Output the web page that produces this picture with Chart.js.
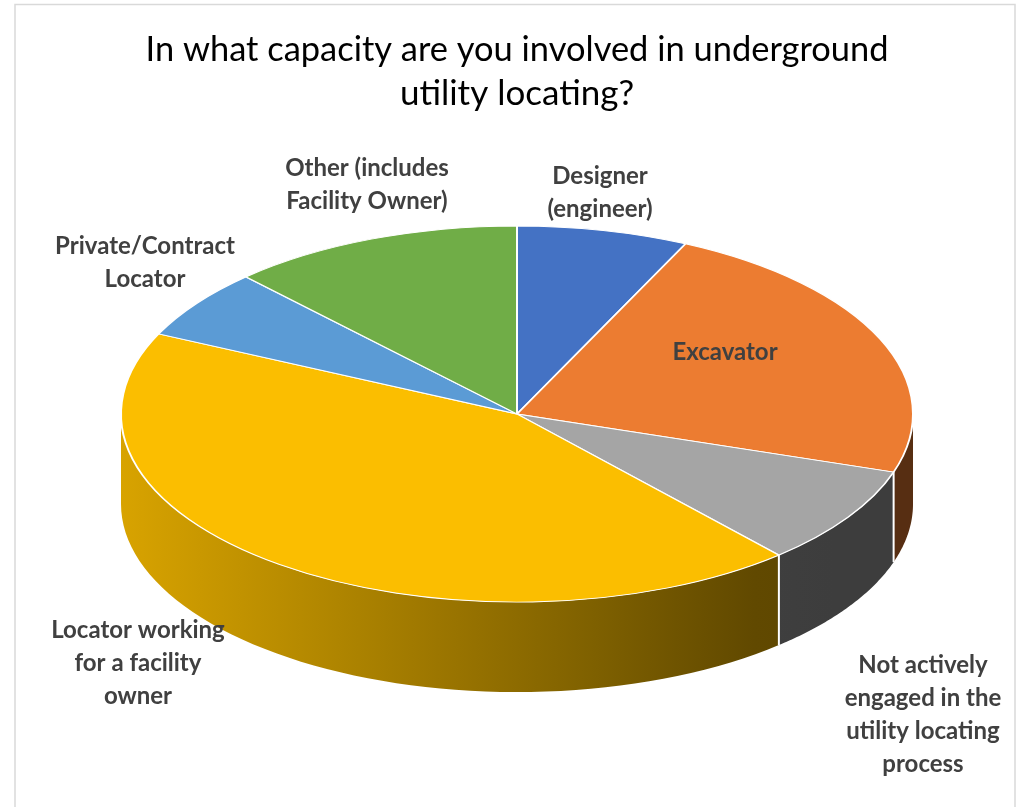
<!DOCTYPE html>
<html>
<head>
<meta charset="utf-8">
<script src="https://cdn.jsdelivr.net/npm/chart.js@4.4.1/dist/chart.umd.min.js"></script>
<style>
  html, body { margin: 0; background: #fff; }
  #wrap { position: relative; width: 1019px; height: 807px; }
</style>
</head>
<body>
<div id="wrap"><canvas id="pie3d" width="1019" height="807"></canvas></div>
<script>
const categories = ['Designer (engineer)', 'Excavator', 'Not actively engaged in the utility locating process',
    'Locator working for a facility owner', 'Private/Contract Locator', 'Other (includes Facility Owner)'];
const shares = [7, 23, 8.5, 43.5, 6, 12];
const titleLines = ['In what capacity are you involved in underground', 'utility locating?'];
const labelLines = [
    ['Designer', '(engineer)'],
    ['Excavator'],
    ['Not actively', 'engaged in the', 'utility locating', 'process'],
    ['Locator working', 'for a facility', 'owner'],
    ['Private/Contract', 'Locator'],
    ['Other (includes', 'Facility Owner)'],
];

const sliceColors = ['#4472C4', '#EC7C31', '#A5A5A5', '#FBBE00', '#5B9BD5', '#70AD47'];
// label anchors: centre x, first baseline
const labelPos = [[600, 184], [725, 360], [923, 673], [138, 638], [145, 254], [367, 176]];

const PIE_CY = 414;
const TILT = 0.475;
const DEPTH = 90;

const shade = (hex, f) => {
    const n = parseInt(hex.slice(1), 16);
    const r = Math.round(((n >> 16) & 255) * f);
    const g = Math.round(((n >> 8) & 255) * f);
    const b = Math.round((n & 255) * f);
    return `rgb(${r}, ${g}, ${b})`;
};

const tiltPlugin = {
    id: 'tilt',
    beforeDatasetsDraw(chart) {
        const { ctx } = chart;
        const arcs = chart.getDatasetMeta(0).data;
        if (!arcs.length) return;
        const cx = arcs[0].x;
        const cy0 = arcs[0].y;
        const R = arcs[0].outerRadius;
        const px = (a) => cx + R * Math.cos(a);
        const py = (a) => PIE_CY + R * TILT * Math.sin(a);

        ctx.save();
        arcs.forEach((arc, i) => {
            const a1 = Math.max(arc.startAngle, 0);
            const a2 = Math.min(arc.endAngle, Math.PI);
            if (a1 >= a2) return;

            const grad = ctx.createLinearGradient(cx - R, 0, cx + R, 0);
            for (let s = 0; s <= 10; s += 1) {
                const x = (s / 10) * 2 * R;
                const f = Math.max(0.37, 0.86 - x * 0.00075);
                grad.addColorStop(s / 10, shade(sliceColors[i], f));
            }

            ctx.beginPath();
            const steps = 60;
            for (let k = 0; k <= steps; k += 1) {
                const a = a1 + (a2 - a1) * k / steps;
                if (k === 0) ctx.moveTo(px(a), py(a));
                else ctx.lineTo(px(a), py(a));
            }
            for (let k = steps; k >= 0; k -= 1) {
                const a = a1 + (a2 - a1) * k / steps;
                ctx.lineTo(px(a), py(a) + DEPTH);
            }
            ctx.closePath();
            ctx.fillStyle = grad;
            ctx.fill();
        });

        // white seams where slices meet on the wall
        ctx.strokeStyle = '#ffffff';
        ctx.lineWidth = 2;
        arcs.forEach((arc) => {
            const b = arc.endAngle;
            if (b > 0.01 && b < Math.PI - 0.01) {
                ctx.beginPath();
                ctx.moveTo(px(b), py(b));
                ctx.lineTo(px(b), py(b) + DEPTH);
                ctx.stroke();
            }
        });
        ctx.restore();

        ctx.save();
        ctx.translate(0, PIE_CY);
        ctx.scale(1, TILT);
        ctx.translate(0, -cy0);
    },
    afterDatasetsDraw(chart) {
        chart.ctx.restore();
    },
};

const framePlugin = {
    id: 'frame',
    beforeDraw(chart) {
        const { ctx } = chart;
        ctx.save();
        ctx.fillStyle = '#ffffff';
        ctx.fillRect(0, 0, chart.width, chart.height);
        ctx.strokeStyle = '#d9d9d9';
        ctx.lineWidth = 1.5;
        ctx.strokeRect(15, 4.5, 1000, 830);
        ctx.restore();
    },
};

const textPlugin = {
    id: 'texts',
    afterDraw(chart) {
        const { ctx } = chart;
        ctx.save();
        ctx.textAlign = 'center';
        ctx.textBaseline = 'alphabetic';
        ctx.fillStyle = '#000000';
        ctx.font = "35px Lato, 'Open Sans', sans-serif";
        ctx.fillText(titleLines[0], 517, 61, 743);
        ctx.fillText(titleLines[1], 517, 105);

        ctx.fillStyle = '#404040';
        ctx.font = "bold 24px Lato, 'Open Sans', sans-serif";
        labelLines.forEach((lines, i) => {
            const [x, y] = labelPos[i];
            lines.forEach((line, j) => ctx.fillText(line, x, y + j * 33));
        });
        ctx.restore();
    },
};

new Chart(document.getElementById('pie3d'), {
    type: 'pie',
    data: {
        labels: categories,
        datasets: [{
            data: shares,
            backgroundColor: sliceColors,
            borderColor: '#ffffff',
            borderWidth: 2,
            hoverOffset: 0,
        }],
    },
    options: {
        responsive: false,
        animation: false,
        events: [],
        layout: { padding: { left: 120, right: 105, top: 6, bottom: 7 } },
        plugins: {
            legend: { display: false },
            tooltip: { enabled: false },
        },
    },
    plugins: [framePlugin, tiltPlugin, textPlugin],
});
</script>
</body>
</html>
